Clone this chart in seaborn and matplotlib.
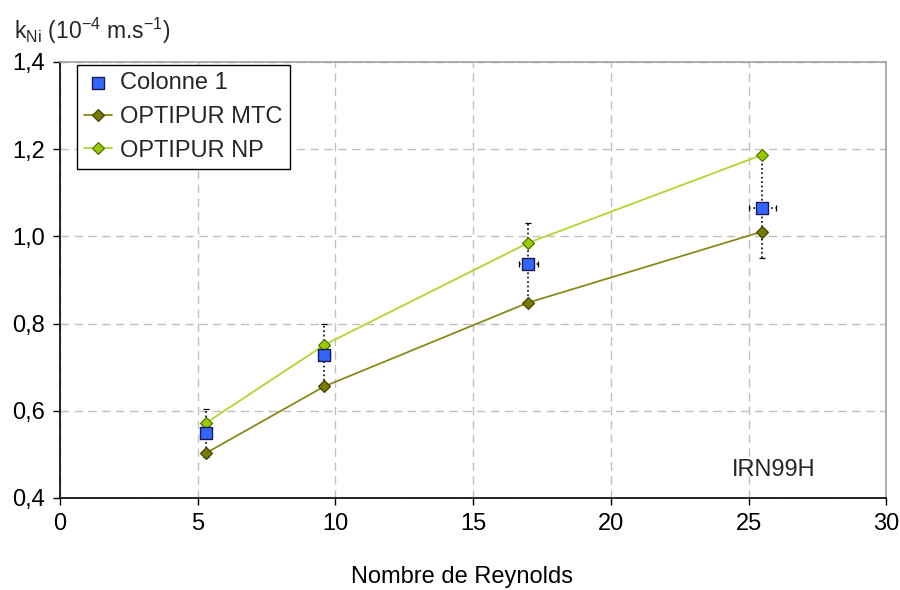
import numpy as np
import pandas as pd
import seaborn as sns
import matplotlib
matplotlib.use("Agg")
import matplotlib.pyplot as plt

# values
reynolds = [5.3, 9.6, 17.0, 25.5]
colonne1 = [0.549, 0.729, 0.937, 1.065]
colonne1_yerr = [0.055, 0.07, 0.094, 0.115]
colonne1_xerr = [0.1, 0.2, 0.35, 0.5]
optipur_mtc = [0.503, 0.656, 0.848, 1.011]
optipur_np = [0.572, 0.751, 0.985, 1.187]

sns.set_style("white")
plt.rcParams['font.family'] = ['Liberation Sans', 'DejaVu Sans']
plt.rcParams['mathtext.fontset'] = 'custom'
plt.rcParams['mathtext.rm'] = 'Liberation Sans'
plt.rcParams['mathtext.it'] = 'Liberation Sans'

FS = 17

df = pd.DataFrame({"Re": reynolds, "col": colonne1, "mtc": optipur_mtc, "np": optipur_np})

fig = plt.figure(figsize=(9, 5.9), dpi=100)
ax = fig.add_axes([0.0667, 0.156, 0.918, 0.739])

# error bars of Colonne 1 (dotted)
eb = ax.errorbar(reynolds, colonne1, yerr=colonne1_yerr, xerr=colonne1_xerr, fmt='none',
                 ecolor='black', elinewidth=1.2, capsize=2.5, capthick=0.9, zorder=2)
for lc in eb[2]:
    lc.set_linestyle(':')

sns.lineplot(data=df, x="Re", y="mtc", ax=ax, color='#8a8a1a', lw=1.3, marker='D', markersize=6.5,
             markerfacecolor='#7a7a00', markeredgecolor='#3a3a00', markeredgewidth=0.8,
             label='OPTIPUR MTC', zorder=3)
sns.lineplot(data=df, x="Re", y="np", ax=ax, color='#b0d630', lw=1.3, marker='D', markersize=6.5,
             markerfacecolor='#99cc00', markeredgecolor='#4a6600', markeredgewidth=0.8,
             label='OPTIPUR NP', zorder=3)
sns.scatterplot(data=df, x="Re", y="col", ax=ax, marker='s', s=80, color='#3366ff',
                edgecolor='#1a1a4d', linewidth=1.0, label='Colonne 1', zorder=4)

ax.set_xlim(0, 30)
ax.set_ylim(0.4, 1.4)
ax.set_xticks(np.arange(0, 31, 5))
ax.set_yticks(np.arange(0.4, 1.41, 0.2))
ax.set_yticklabels([f"{v:.1f}".replace('.', ',') for v in np.arange(0.4, 1.41, 0.2)])
ax.tick_params(labelsize=FS, direction='out', length=5, width=1, color='black',
               labelcolor='black', left=True, bottom=True, pad=6)
ax.grid(True, color='#c0c0c0', linestyle=(0, (6, 4)), linewidth=1)
ax.set_axisbelow(True)

for s in ['left', 'bottom']:
    ax.spines[s].set_color('black')
    ax.spines[s].set_linewidth(1.2)
for s in ['top', 'right']:
    ax.spines[s].set_color('#a0a0a0')
    ax.spines[s].set_linewidth(1.2)

ax.set_xlabel("Nombre de Reynolds", fontsize=FS, color='black')
ax.xaxis.set_label_coords(0.487, -0.155)
ax.set_ylabel("")
fig.text(0.016, 0.948, r'k$_{\mathrm{Ni}}$ (10$^{-4}$ m.s$^{-1}$)', fontsize=16.5, va='center', ha='left')

ax.text(25.9, 0.463, "IRN99H", fontsize=FS, ha='center', va='center')

handles, labels = ax.get_legend_handles_labels()
order = [labels.index('Colonne 1'), labels.index('OPTIPUR MTC'), labels.index('OPTIPUR NP')]
leg = ax.legend([handles[i] for i in order], [labels[i] for i in order],
                loc='upper left', bbox_to_anchor=(0.02, 0.993), fontsize=FS, frameon=True,
                fancybox=False, edgecolor='black', framealpha=1, borderpad=0.3,
                handlelength=1.2, handletextpad=0.35, labelspacing=0.5, borderaxespad=0)
leg.get_frame().set_linewidth(1.0)

fig.savefig("out.png", dpi=100)
